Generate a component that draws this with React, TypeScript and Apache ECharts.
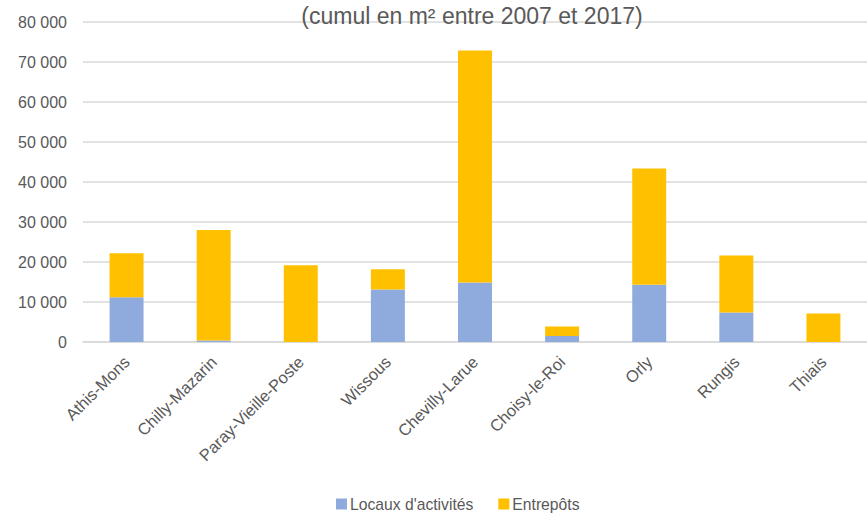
import React, { useEffect, useRef } from "react";
import * as echarts from "echarts";

const categories = [
  "Athis-Mons",
  "Chilly-Mazarin",
  "Paray-Vieille-Poste",
  "Wissous",
  "Chevilly-Larue",
  "Choisy-le-Roi",
  "Orly",
  "Rungis",
  "Thiais",
];
const locaux = [11200, 400, 0, 13100, 14900, 1500, 14300, 7400, 0];
const entrepots = [11000, 27600, 19200, 5100, 58000, 2400, 29100, 14200, 7100];
const seriesNames = ["Locaux d'activités", "Entrepôts"];
const titleText = "(cumul en m² entre 2007 et 2017)";

export default function App() {
  const ref = useRef<HTMLDivElement>(null);
  useEffect(() => {
    if (!ref.current) return;
    const chart = echarts.init(ref.current, null, { renderer: "svg" });
    const font = "'Liberation Sans', Arial, sans-serif";
    chart.setOption({
      animation: false,
      backgroundColor: "#ffffff",
      title: {
        text: titleText,
        left: 467,
        textAlign: "center",
        top: -1,
        textStyle: { fontFamily: font, fontSize: 23, fontWeight: "normal", color: "#595959" },
      },
      legend: {
        bottom: -1,
        left: 331,
        itemWidth: 11,
        itemHeight: 11,
        itemGap: 25,
        icon: "rect",
        textStyle: { fontFamily: font, fontSize: 15.7, color: "#595959", padding: [0, 0, 0, -2] },
        data: seriesNames,
      },
      grid: { left: 83, right: 0, top: 22, bottom: 174, containLabel: false },
      xAxis: {
        type: "category",
        data: categories,
        axisLine: { lineStyle: { color: "#d9d9d9", width: 1.5 } },
        axisTick: { show: false },
        axisLabel: {
          rotate: 45,
          interval: 0,
          margin: 17,
          fontFamily: font,
          fontSize: 16.5,
          color: "#595959",
        },
      },
      yAxis: {
        type: "value",
        min: 0,
        max: 80000,
        interval: 10000,
        axisLine: { show: false },
        axisTick: { show: false },
        splitLine: { lineStyle: { color: "#d9d9d9", width: 1.5 } },
        axisLabel: {
          margin: 16,
          fontFamily: font,
          fontSize: 16,
          color: "#595959",
          formatter: (v: number) =>
            v === 0 ? "0" : String(v).replace(/\B(?=(\d{3})+(?!\d))/g, " "),
        },
      },
      series: [
        {
          name: seriesNames[0],
          type: "bar",
          stack: "total",
          data: locaux,
          barWidth: "39%",
          itemStyle: { color: "#8faadc" },
        },
        {
          name: seriesNames[1],
          type: "bar",
          stack: "total",
          data: entrepots,
          barWidth: "39%",
          itemStyle: { color: "#ffc000" },
        },
      ],
    });
    return () => chart.dispose();
  }, []);
  return <div ref={ref} style={{ width: 867, height: 516, position: "absolute", left: 0, top: 0 }} />;
}
